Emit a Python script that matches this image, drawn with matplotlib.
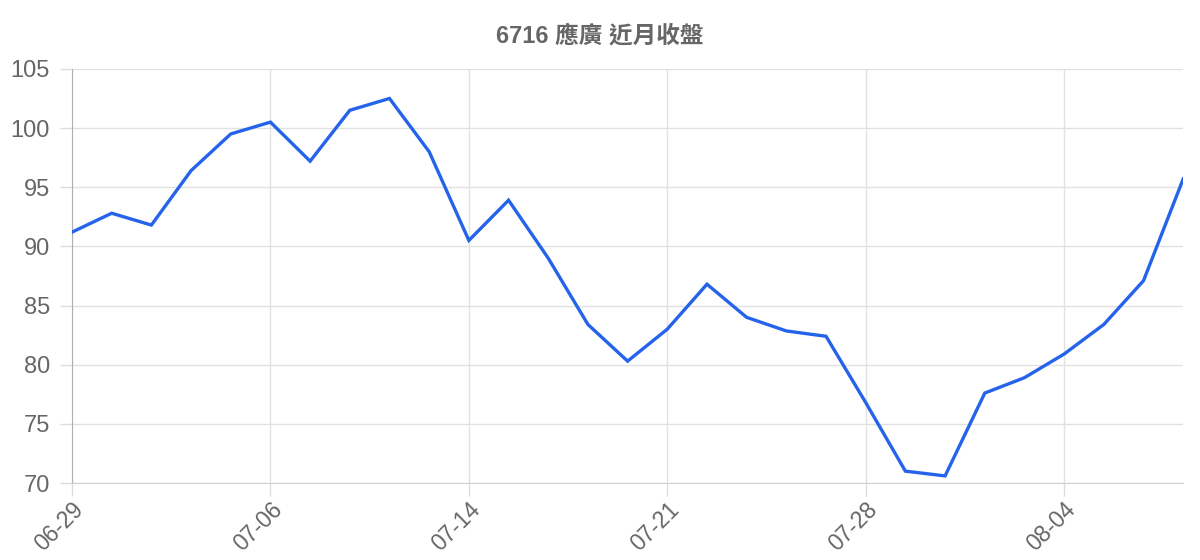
import matplotlib
matplotlib.use("Agg")
from matplotlib import pyplot as plt

plt.rcParams['font.family'] = ['Liberation Sans', 'Noto Sans CJK TC', 'DejaVu Sans']

# 收盤價 (29 個交易日)
dates = ['06-29', '06-30', '07-03', '07-04', '07-05', '07-06', '07-07', '07-11',
         '07-12', '07-13', '07-14', '07-17', '07-18', '07-19', '07-20', '07-21',
         '07-24', '07-25', '07-26', '07-27', '07-28', '07-31', '08-01', '08-02',
         '08-03', '08-04', '08-07', '08-08', '08-09']
closes = [91.2, 92.8, 91.8, 96.4, 99.5, 100.5, 97.2, 101.5, 102.5, 98.0,
          90.5, 93.9, 89.0, 83.4, 80.3, 83.0, 86.8, 84.0, 82.85, 82.4,
          76.8, 71.0, 70.6, 77.6, 78.9, 80.9, 83.4, 87.1, 95.7]
y_ticks = [70, 75, 80, 85, 90, 95, 100, 105]
title = '6716 應廣 近月收盤'

fig = plt.figure(figsize=(12, 5.6), dpi=100)
ax = fig.add_axes([0.06, 0.1375, 0.926, 0.7395])

x = list(range(len(dates)))
ax.plot(x, closes, color='#2563eb', linewidth=2.4, solid_joinstyle='miter', zorder=3)

ax.set_xlim(0, len(dates) - 1)
ax.set_ylim(70, 105)
ax.set_yticks(y_ticks)
ax.set_xticks(x[::5])
ax.set_xticklabels(dates[::5], rotation=45, ha='right', rotation_mode='anchor')

ax.grid(True, color='#e1e1e1', linewidth=1)
ax.tick_params(axis='both', colors='#dddddd', length=9, width=1,
               labelcolor='#666666', labelsize=16.5, pad=2)
ax.tick_params(axis='y', labelsize=17, pad=7)
for side in ['top', 'right']:
    ax.spines[side].set_visible(False)
ax.spines['left'].set_color('#b0b0b0')
ax.spines['bottom'].set_color('#d0d0d0')
ax.set_axisbelow(True)

fig.text(0.5, 0.935, title, ha='center', va='center', fontsize=17,
         fontweight='bold', color='#666666')

fig.savefig('out.png', dpi=100)
